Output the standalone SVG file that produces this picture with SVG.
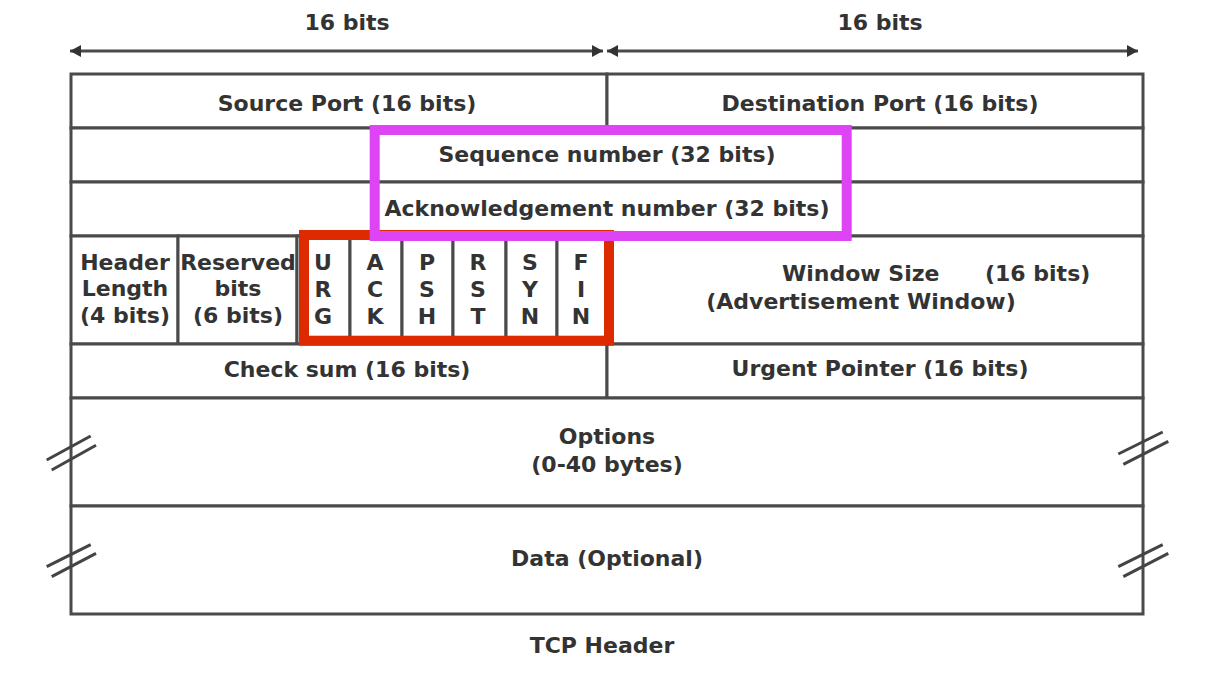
<svg xmlns="http://www.w3.org/2000/svg" width="1232" height="696" viewBox="0 0 1232 696">
<style>
.cell{fill:#ffffff;stroke:#4a4a4a;stroke-width:3}
.t{font-family:"DejaVu Sans","Verdana",sans-serif;font-weight:bold;font-size:22px;fill:#333333;text-anchor:middle}
.ts{font-family:"DejaVu Sans","Verdana",sans-serif;font-weight:bold;font-size:22px;fill:#333333;text-anchor:start}
.dim{stroke:#4a4a4a;stroke-width:3;fill:none}
.brk{stroke:#444444;stroke-width:3;fill:none}
.hl{fill:none}
</style>
<defs>
<marker id="ah" markerUnits="userSpaceOnUse" markerWidth="12" markerHeight="14" refX="11" refY="7" orient="auto-start-reverse">
<path d="M0,1 L11,7 L0,13 Z" fill="#333333"/>
</marker>
</defs>
<rect width="1232" height="696" fill="#ffffff"/>

<g id="width-labels">
<text class="t" x="347" y="30">16 bits</text>
<text class="t" x="880" y="30">16 bits</text>
</g>

<g id="connectors">
<line class="dim" x1="70" y1="51" x2="603" y2="51" marker-start="url(#ah)" marker-end="url(#ah)"/>
<line class="dim" x1="607" y1="51" x2="1138" y2="51" marker-start="url(#ah)" marker-end="url(#ah)"/>
</g>

<g id="source-port"><rect class="cell" x="71" y="74" width="536" height="54"/><text class="t" x="347" y="111">Source Port (16 bits)</text></g>
<g id="destination-port"><rect class="cell" x="607" y="74" width="536" height="54"/><text class="t" x="880" y="111">Destination Port (16 bits)</text></g>
<g id="sequence-number"><rect class="cell" x="71" y="128" width="1072" height="54"/><text class="t" x="607" y="162">Sequence number (32 bits)</text></g>
<g id="ack-number"><rect class="cell" x="71" y="182" width="1072" height="54"/><text class="t" x="607" y="216">Acknowledgement number (32 bits)</text></g>

<g id="header-length"><rect class="cell" x="71" y="236" width="107" height="108"/>
<text class="t" x="125" y="270">Header</text><text class="t" x="125" y="296">Length</text><text class="t" x="125" y="323">(4 bits)</text></g>
<g id="reserved"><rect class="cell" x="178" y="236" width="119" height="108"/>
<text class="t" x="238" y="270">Reserved</text><text class="t" x="238" y="296">bits</text><text class="t" x="238" y="323">(6 bits)</text></g>

<g id="flag-urg"><rect class="cell" x="297" y="236" width="53" height="108"/><text class="t" x="323" y="270">U</text><text class="t" x="323" y="297">R</text><text class="t" x="323" y="324">G</text></g>
<g id="flag-ack"><rect class="cell" x="350" y="236" width="52" height="108"/><text class="t" x="375" y="270">A</text><text class="t" x="375" y="297">C</text><text class="t" x="375" y="324">K</text></g>
<g id="flag-psh"><rect class="cell" x="402" y="236" width="51" height="108"/><text class="t" x="427" y="270">P</text><text class="t" x="427" y="297">S</text><text class="t" x="427" y="324">H</text></g>
<g id="flag-rst"><rect class="cell" x="453" y="236" width="53" height="108"/><text class="t" x="478" y="270">R</text><text class="t" x="478" y="297">S</text><text class="t" x="478" y="324">T</text></g>
<g id="flag-syn"><rect class="cell" x="506" y="236" width="51" height="108"/><text class="t" x="530" y="270">S</text><text class="t" x="530" y="297">Y</text><text class="t" x="530" y="324">N</text></g>
<g id="flag-fin"><rect class="cell" x="557" y="236" width="50" height="108"/><text class="t" x="581" y="270">F</text><text class="t" x="581" y="297">I</text><text class="t" x="581" y="324">N</text></g>

<g id="window-size"><rect class="cell" x="607" y="236" width="536" height="108"/>
<text class="ts" x="782" y="281">Window Size</text><text class="ts" x="985" y="281">(16 bits)</text>
<text class="t" x="861" y="309">(Advertisement Window)</text></g>

<g id="checksum"><rect class="cell" x="71" y="344" width="536" height="54"/><text class="t" x="347" y="377">Check sum (16 bits)</text></g>
<g id="urgent-pointer"><rect class="cell" x="607" y="344" width="536" height="54"/><text class="t" x="880" y="376">Urgent Pointer (16 bits)</text></g>

<g id="options"><rect class="cell" x="71" y="398" width="1072" height="108"/>
<text class="t" x="607" y="444">Options</text><text class="t" x="607" y="472">(0-40 bytes)</text></g>
<g id="data"><rect class="cell" x="71" y="506" width="1072" height="108"/>
<text class="t" x="607" y="566">Data (Optional)</text></g>

<g id="break-marks">
<line class="brk" x1="46.7" y1="460" x2="90.7" y2="436"/><line class="brk" x1="51.7" y1="470" x2="96" y2="445.3"/>
<line class="brk" x1="46.7" y1="566.7" x2="90.7" y2="544.7"/><line class="brk" x1="51.7" y1="576.7" x2="96" y2="553.3"/>
<line class="brk" x1="1118.3" y1="454" x2="1162.7" y2="432"/><line class="brk" x1="1123.3" y1="464.3" x2="1168.3" y2="441.3"/>
<line class="brk" x1="1118.3" y1="566.7" x2="1162.7" y2="544.7"/><line class="brk" x1="1123.3" y1="576.7" x2="1168.3" y2="553.3"/>
</g>

<g id="flags-highlight"><rect class="hl" x="304" y="235" width="305" height="105.7" stroke="#dd2a00" stroke-width="10"/></g>
<g id="seq-ack-highlight"><rect class="hl" x="374.7" y="130" width="472" height="106" stroke="#de44f4" stroke-width="10"/></g>

<g id="caption"><text class="t" x="602" y="653">TCP Header</text></g>
</svg>
